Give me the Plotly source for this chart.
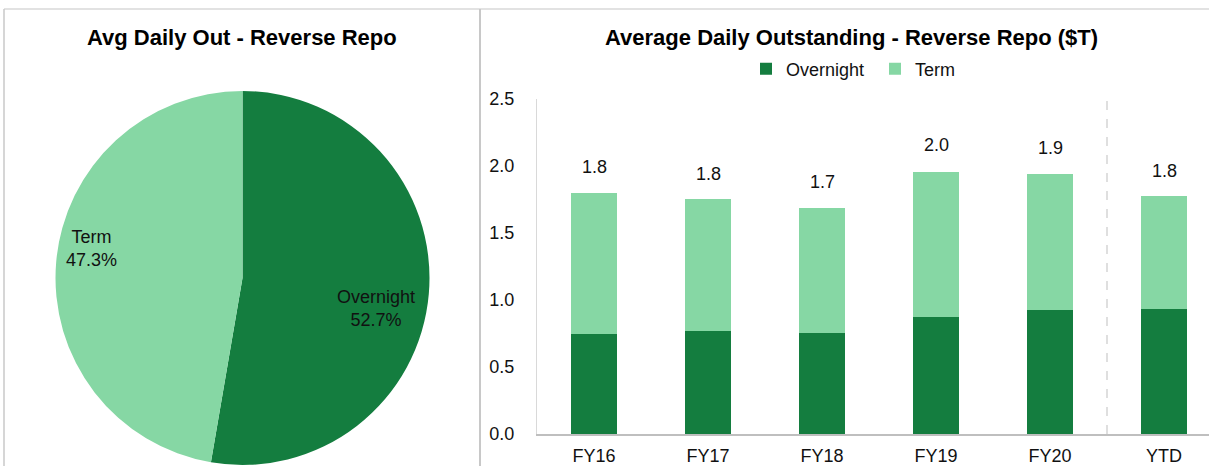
import plotly.graph_objects as go

W, H = 1209, 466

# Pie data
pie_labels = ["Overnight", "Term"]
pie_values = [52.7, 47.3]

# Bar data ($T)
categories = ["FY16", "FY17", "FY18", "FY19", "FY20", "YTD"]
overnight = [0.75, 0.77, 0.755, 0.875, 0.925, 0.935]
term = [1.05, 0.985, 0.93, 1.08, 1.015, 0.84]
totals = [round(o + t, 2) for o, t in zip(overnight, term)]

DARK = "#147D3F"
LIGHT = "#86D7A4"
FONT = "Liberation Sans, Arial, sans-serif"

def px_x(p):
    return p / W

def px_y(p):
    return (H - p) / H

fig = go.Figure()

fig.add_trace(go.Pie(
    labels=pie_labels, values=pie_values, sort=False, direction="clockwise",
    rotation=0, marker=dict(colors=[DARK, LIGHT], line=dict(width=0)),
    textinfo="none", hoverinfo="label+percent", showlegend=False,
    domain=dict(x=[px_x(55), px_x(430)], y=[px_y(465), px_y(91)]),
))

fig.add_trace(go.Bar(x=categories, y=overnight, name="Overnight",
                     marker=dict(color=DARK, line=dict(width=0)), width=0.4))
fig.add_trace(go.Bar(x=categories, y=term, name="Term",
                     marker=dict(color=LIGHT, line=dict(width=0)), width=0.4))

# Pie slice labels
fig.add_annotation(x=px_x(91), y=px_y(248), xref="paper", yref="paper",
                   xanchor="center", yanchor="middle",
                   text=f"{pie_labels[1]}<br>{pie_values[1]:.1f}%", showarrow=False,
                   font=dict(size=18, color="#111", family=FONT), align="center")
fig.add_annotation(x=px_x(376), y=px_y(308), xref="paper", yref="paper",
                   xanchor="center", yanchor="middle",
                   text=f"{pie_labels[0]}<br>{pie_values[0]:.1f}%", showarrow=False,
                   font=dict(size=18, color="#111", family=FONT), align="center")

# Totals above bars
for c, t in zip(categories, totals):
    fig.add_annotation(x=c, y=t, xref="x", yref="y", text=f"{t:.1f}",
                       showarrow=False, xanchor="center", yanchor="bottom", yshift=14,
                       font=dict(size=18, color="#111", family=FONT))

# Titles
fig.add_annotation(x=px_x(242), y=px_y(38), xref="paper", yref="paper",
                   xanchor="center", yanchor="middle",
                   text="<b>Avg Daily Out - Reverse Repo</b>", showarrow=False,
                   font=dict(size=22, color="#000", family=FONT))
fig.add_annotation(x=px_x(851), y=px_y(38), xref="paper", yref="paper",
                   xanchor="center", yanchor="middle",
                   text="<b>Average Daily Outstanding - Reverse Repo ($T)</b>", showarrow=False,
                   font=dict(size=22, color="#000", family=FONT))

# Borders and separator
fig.add_shape(type="line", xref="paper", yref="paper", x0=px_x(4), x1=1, y0=px_y(9), y1=px_y(9),
              line=dict(color="#d9d9d9", width=1.5))
fig.add_shape(type="line", xref="paper", yref="paper", x0=px_x(4), x1=px_x(4), y0=0, y1=px_y(9),
              line=dict(color="#c8c8c8", width=1.5))
fig.add_shape(type="line", xref="paper", yref="paper", x0=px_x(480), x1=px_x(480), y0=0, y1=px_y(9),
              line=dict(color="#c8c8c8", width=2))
# dashed divider before YTD
fig.add_shape(type="line", xref="x", yref="paper", x0=4.5, x1=4.5, y0=px_y(434), y1=px_y(96),
              line=dict(color="#bfbfbf", width=1, dash="dash"))

fig.update_layout(
    width=W, height=H, margin=dict(l=0, r=0, t=0, b=0, autoexpand=False),
    paper_bgcolor="white", plot_bgcolor="white", barmode="stack",
    font=dict(family=FONT, size=17, color="#111"),
    legend=dict(orientation="h", traceorder="normal", x=px_x(746), xanchor="left",
                y=px_y(69), yanchor="middle", entrywidth=84, entrywidthmode="pixels",
                font=dict(size=18, color="#111"), itemclick=False, bgcolor="rgba(0,0,0,0)"),
    xaxis=dict(domain=[px_x(537), 1.0], range=[-0.5, 5.5 - 12 / 114], automargin=False,
               showline=True, linecolor="#bfbfbf", linewidth=1.5, ticks="",
               ticklabelstandoff=5, tickfont=dict(size=18, color="#111"), showgrid=False),
    yaxis=dict(domain=[px_y(434), px_y(99)], range=[0, 2.5], dtick=0.5, tickformat=".1f",
               automargin=False,
               showline=True, linecolor="#d9d9d9", linewidth=1, ticks="", showgrid=False,
               zeroline=False, ticklabelstandoff=18, tickfont=dict(size=18, color="#111")),
)

post = (
    "document.documentElement.style.margin='0';"
    "document.body.style.margin='0';"
    "document.body.style.overflow='hidden';"
)

fig.write_html("out.html", config={"displayModeBar": False}, post_script=post)
